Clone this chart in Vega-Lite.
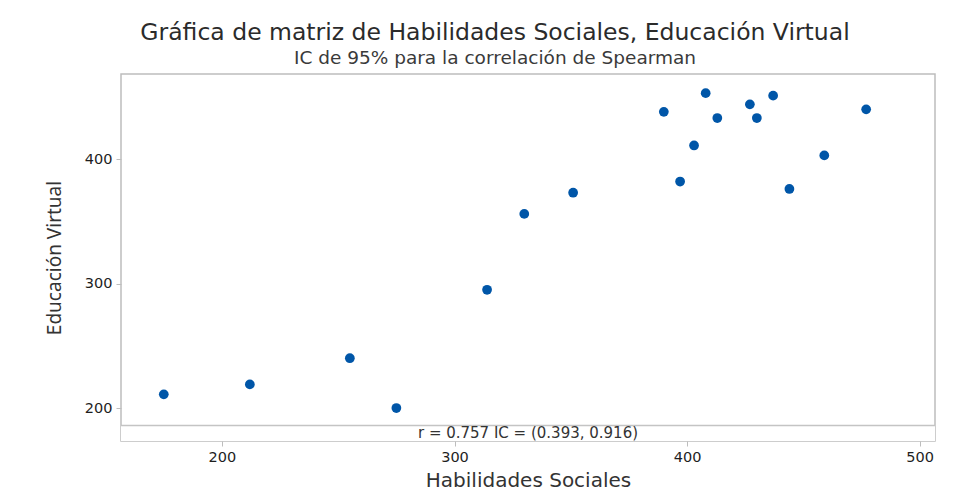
{
  "$schema": "https://vega.github.io/schema/vega-lite/v6.json",
  "width": 814,
  "height": 367,
  "autosize": "none",
  "padding": {"left": 121, "top": 74, "right": 34, "bottom": 60},
  "background": "white",
  "title": {
    "text": "Gráfica de matriz de Habilidades Sociales, Educación Virtual",
    "subtitle": "IC de 95% para la correlación de Spearman",
    "anchor": "middle",
    "dx": -33,
    "offset": 7,
    "font": "DejaVu Sans",
    "fontSize": 23.5,
    "fontWeight": "normal",
    "color": "#2b2b2b",
    "subtitleFont": "DejaVu Sans",
    "subtitleFontSize": 18.5,
    "subtitleColor": "#3a3a3a",
    "subtitlePadding": 4
  },
  "config": {
    "view": {"stroke": "#bdbdbd", "strokeWidth": 1.5},
    "axis": {
      "gridColor": "#ececec",
      "gridWidth": 1,
      "domain": false,
      "tickColor": "#bdbdbd",
      "tickSize": 5,
      "labelFont": "DejaVu Sans",
      "labelFontSize": 14.5,
      "labelColor": "#1e1e1e",
      "titleFont": "DejaVu Sans",
      "titleFontWeight": "normal",
      "titleColor": "#333333"
    }
  },
  "layer": [
    {
      "data": {"values": [{}]},
      "mark": {"type": "rect", "color": "white"},
      "encoding": {
        "y": {"datum": 173.5, "type": "quantitative"},
        "y2": {"datum": 186}
      }
    },
    {
      "data": {"values": [{}]},
      "mark": {"type": "rule", "color": "#c4c4c4", "strokeWidth": 1.5},
      "encoding": {
        "y": {"datum": 186, "type": "quantitative"}
      }
    },
    {
      "data": {"values": [{}]},
      "mark": {"type": "text", "font": "DejaVu Sans", "fontSize": 15, "color": "#333333", "baseline": "middle", "align": "center"},
      "encoding": {
        "x": {"datum": 331.6, "type": "quantitative"},
        "y": {"datum": 179.8, "type": "quantitative"},
        "text": {"value": "r = 0.757  IC = (0.393, 0.916)"}
      }
    },
    {
      "data": {
        "values": [
          {"hs": 175, "ev": 211},
          {"hs": 212, "ev": 219},
          {"hs": 255, "ev": 240},
          {"hs": 275, "ev": 200},
          {"hs": 314, "ev": 295},
          {"hs": 330, "ev": 356},
          {"hs": 351, "ev": 373},
          {"hs": 390, "ev": 438},
          {"hs": 397, "ev": 382},
          {"hs": 403, "ev": 411},
          {"hs": 408, "ev": 453},
          {"hs": 413, "ev": 433},
          {"hs": 427, "ev": 444},
          {"hs": 430, "ev": 433},
          {"hs": 437, "ev": 451},
          {"hs": 444, "ev": 376},
          {"hs": 459, "ev": 403},
          {"hs": 477, "ev": 440}
        ]
      },
      "mark": {"type": "point", "filled": true, "opacity": 1, "color": "#0056a8", "size": 95},
      "encoding": {
        "x": {
          "field": "hs",
          "type": "quantitative",
          "scale": {"domain": [156.6, 506.6], "nice": false, "zero": false},
          "axis": {"values": [200, 300, 400, 500], "title": "Habilidades Sociales", "titleFontSize": 20, "titlePadding": 7, "labelPadding": 4}
        },
        "y": {
          "field": "ev",
          "type": "quantitative",
          "scale": {"domain": [173.5, 468.4], "nice": false, "zero": false},
          "axis": {"values": [200, 300, 400], "title": "Educación Virtual", "titleFont": "Noto Sans", "titleFontSize": 19, "titlePadding": 20, "labelPadding": 4}
        }
      }
    }
  ]
}
